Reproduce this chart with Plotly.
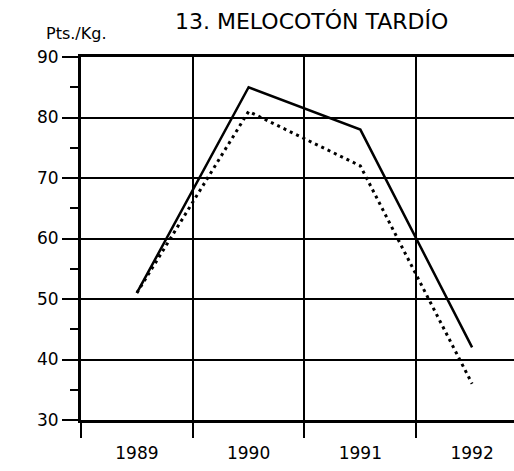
import plotly.graph_objects as go

years = ["1989", "1990", "1991", "1992"]
serie_continua = [51, 85, 78, 42]
serie_punteada = [51, 81, 72, 36]
y_ticks = [30, 40, 50, 60, 70, 80, 90]

FONT = "DejaVu Sans"

fig = go.Figure()
fig.add_trace(go.Scatter(x=years, y=serie_continua, mode="lines",
                         line=dict(color="black", width=2.5)))
fig.add_trace(go.Scatter(x=years, y=serie_punteada, mode="lines",
                         line=dict(color="black", width=3, dash="3px,4px")))

W, H = 514, 471
ml, mr, mt, mb = 81, 0, 57, 51

fig.update_layout(
    width=W, height=H,
    margin=dict(l=ml, r=mr, t=mt, b=mb),
    paper_bgcolor="white", plot_bgcolor="white",
    showlegend=False,
    font=dict(family=FONT, color="black", size=17),
)
fig.update_xaxes(
    type="category", categoryorder="array", categoryarray=years,
    range=[-0.5, 3.375],
    tickson="boundaries", ticks="outside", ticklen=15, tickwidth=1.5, tickcolor="black",
    ticklabelstandoff=16,
    showgrid=True, gridcolor="black", gridwidth=1.5,
    showline=True, linecolor="black", linewidth=3, mirror=True,
    tickfont=dict(family=FONT, size=17, color="black"),
    fixedrange=True,
)
fig.update_yaxes(
    range=[30, 90], tickvals=y_ticks,
    ticks="outside", ticklen=16, tickwidth=1.5, tickcolor="black",
    minor=dict(ticks="outside", ticklen=8, tickwidth=1.5, tickcolor="black", dtick=5, tick0=35, showgrid=False),
    showgrid=True, gridcolor="black", gridwidth=1.5,
    showline=True, linecolor="black", linewidth=3,
    zeroline=False,
    tickfont=dict(family=FONT, size=17, color="black"),
    fixedrange=True,
)

pw = W - ml - mr
ph = H - mt - mb
def px(xp):
    return (xp - ml) / pw
def py(yp):
    return (H - mb - yp) / ph

fig.add_annotation(text="13. MELOCOTÓN TARDÍO", xref="paper", yref="paper",
                   x=px(311), y=py(21), xanchor="center", yanchor="middle",
                   showarrow=False, font=dict(family=FONT, size=22, color="black"))
fig.add_annotation(text="Pts./Kg.", xref="paper", yref="paper",
                   x=px(44), y=py(34), xanchor="left", yanchor="middle",
                   showarrow=False, font=dict(family=FONT, size=16, color="black"))

fig.write_html("out.html", config={"displayModeBar": False},
               post_script="document.body.style.margin='0';document.body.style.overflow='hidden';")
